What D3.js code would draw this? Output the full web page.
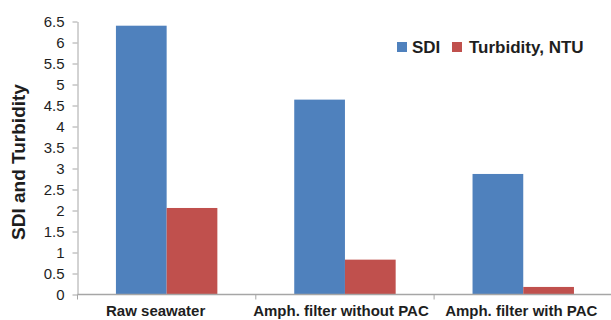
<!DOCTYPE html>
<html>
<head>
<meta charset="utf-8">
<script src="https://cdn.jsdelivr.net/npm/d3@7/dist/d3.min.js"></script>
<style>
  html, body { margin: 0; padding: 0; background: #fff; }
  svg { display: block; font-family: "Liberation Sans", Arial, sans-serif; }
</style>
</head>
<body>
<svg id="chart" width="611" height="320"></svg>
<script>
const categories = ["Raw seawater", "Amph. filter without PAC", "Amph. filter with PAC"];
const seriesNames = ["SDI", "Turbidity, NTU"];
const sdiValues = [6.40, 4.64, 2.87];
const turbidityValues = [2.06, 0.83, 0.18];
const yTicks = [0, 0.5, 1, 1.5, 2, 2.5, 3, 3.5, 4, 4.5, 5, 5.5, 6, 6.5];
const yTitle = "SDI and Turbidity";

const colors = ["#4F81BD", "#C0504D"];
const textColor = "#1e1e1e";
const axisColor = "#a6a6a6";

const svg = d3.select("#chart");

const x0 = d3.scaleBand().domain(categories).range([77.5, 612.4]).paddingInner(0).paddingOuter(0);
const x1 = d3.scaleBand().domain(seriesNames).range([0, x0.bandwidth()]).paddingInner(0).paddingOuter(0.758);
const y = d3.scaleLinear().domain([0, 6.5]).range([294.5, 21.5]);

const data = categories.map((c, i) => ({ cat: c, values: [sdiValues[i], turbidityValues[i]] }));

// bars
const groups = svg.append("g").selectAll("g").data(data).join("g")
  .attr("transform", d => `translate(${x0(d.cat)},0)`);
groups.selectAll("rect").data(d => d.values.map((v, j) => ({ name: seriesNames[j], v, j })))
  .join("rect")
  .attr("x", d => x1(d.name))
  .attr("width", x1.bandwidth())
  .attr("y", d => y(d.v))
  .attr("height", d => y(0) - y(d.v))
  .attr("fill", d => colors[d.j]);

// y axis
const yAxis = svg.append("g").attr("transform", "translate(77.5,0)")
  .call(d3.axisLeft(y).tickValues(yTicks).tickSize(5).tickSizeOuter(0).tickPadding(8).tickFormat(d3.format("")));
yAxis.select(".domain").attr("stroke", axisColor);
yAxis.selectAll(".tick line").attr("stroke", axisColor);
yAxis.selectAll(".tick text").attr("fill", textColor).style("font-size", "15px")
  .style("font-family", "'Liberation Sans', Arial, sans-serif");

// x axis line
const xAxisG = svg.append("g");
xAxisG.append("line").attr("x1", 77.5).attr("x2", 611).attr("y1", y(0)).attr("y2", y(0))
  .attr("stroke", axisColor).attr("stroke-width", 1.5);
const boundaries = categories.map(c => x0(c));
xAxisG.selectAll("line.tk").data(boundaries).join("line").attr("class", "tk")
  .attr("x1", d => d).attr("x2", d => d).attr("y1", y(0)).attr("y2", y(0) + 5)
  .attr("stroke", axisColor);

const labelShift = [-11, -4, -2];
xAxisG.selectAll("text").data(categories).join("text")
  .attr("x", (d, i) => x0(d) + x0.bandwidth() / 2 + labelShift[i])
  .attr("y", 316)
  .attr("text-anchor", "middle")
  .attr("fill", textColor)
  .style("font-size", "15px").style("font-weight", "bold")
  .text(d => d);

// y title
svg.append("text")
  .attr("transform", "translate(25,162) rotate(-90)")
  .attr("text-anchor", "middle")
  .attr("fill", textColor)
  .style("font-size", "19px").style("font-weight", "bold")
  .text(yTitle);

// legend
const legendX = [397, 452];
const legend = svg.append("g").selectAll("g").data(seriesNames).join("g")
  .attr("transform", (d, i) => `translate(${legendX[i]},42)`);
legend.append("rect").attr("width", 10).attr("height", 10).attr("fill", (d, i) => colors[i]);
legend.append("text").attr("x", (d, i) => i === 0 ? 15 : 17).attr("y", 11)
  .attr("fill", textColor).style("font-size", "17px").style("font-weight", "bold")
  .text(d => d);
</script>
</body>
</html>
